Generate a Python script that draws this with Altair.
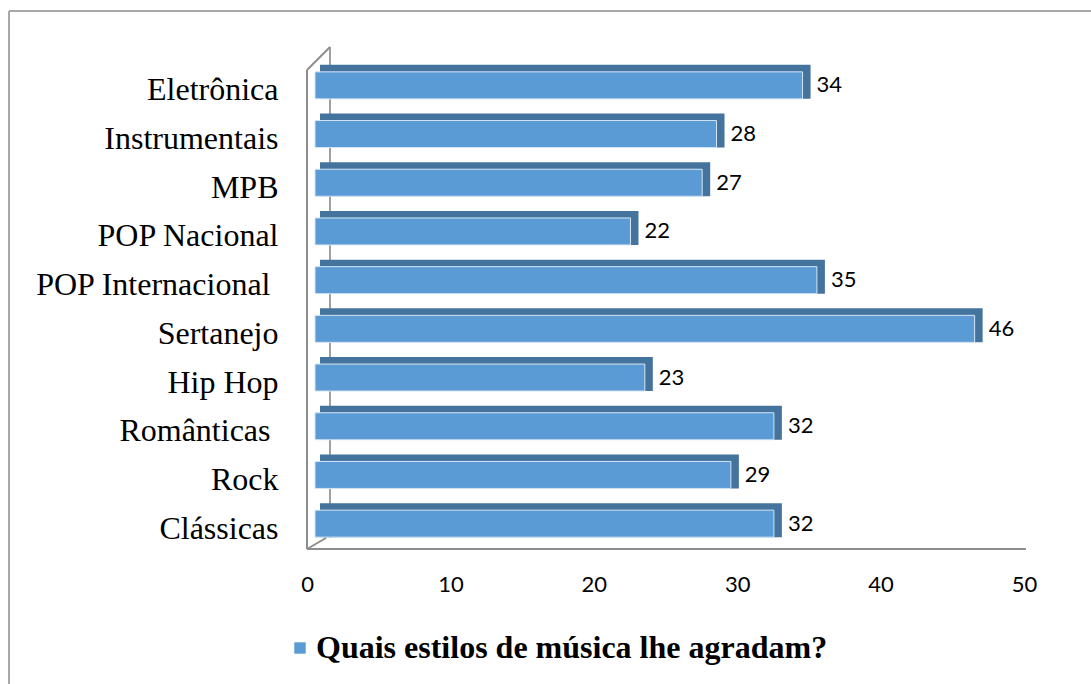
import altair as alt
import pandas as pd

categories = ["Eletrônica", "Instrumentais", "MPB", "POP Nacional", "POP Internacional",
              "Sertanejo", "Hip Hop", "Românticas", "Rock", "Clássicas"]
values = [34, 28, 27, 22, 35, 46, 23, 32, 29, 32]
trailing_space_labels = ["POP Internacional", "Românticas"]
series_name = "Quais estilos de música lhe agradam?"
x_ticks = [0, 10, 20, 30, 40, 50]

df = pd.DataFrame({"estilo": categories, "valor": values, "serie": series_name})

W, H = 717, 487
PAD_L, PAD_T = 307, 61

pad_test = " || ".join(f"datum.value == '{c}'" for c in trailing_space_labels)

y_enc = alt.Y("estilo:N", sort=categories,
              scale=alt.Scale(paddingInner=0.445, paddingOuter=0.2225),
              axis=alt.Axis(title=None, domain=False, ticks=False, labelFont="Liberation Serif",
                            labelFontSize=32, labelColor="black",
                            labelPadding={"condition": {"test": pad_test, "value": 37}, "value": 29},
                            labelOffset=5, labelLimit=400))
x_scale = alt.Scale(domain=[0, 50], nice=False, zero=True)
x_enc = alt.X("valor:Q", scale=x_scale,
              axis=alt.Axis(title=None, values=x_ticks, domain=False, ticks=False, grid=False,
                            labelFont="Lato", labelFontSize=22, labelColor="black",
                            labelPadding=26, labelAngle=0, labelFlush=False))

base = alt.Chart(df)

gray = "#8e8e8e"

def rule(x1, y1, x2, y2, color=gray, w=2):
    return alt.Chart(pd.DataFrame({"d": [0]})).mark_rule(color=color, strokeWidth=w).encode(
        x=alt.value(x1), y=alt.value(y1), x2=alt.value(x2), y2=alt.value(y2))

# frame around the chart area
frame_left = rule(9 - PAD_L, 11 - PAD_T, 9 - PAD_L, 700 - PAD_T, "#a8a8a8", 2)
frame_top = rule(9 - PAD_L, 11 - PAD_T, 1100 - PAD_L, 11 - PAD_T, "#a8a8a8", 2)

back_wall = rule(23, 47 - PAD_T, 23, 538 - PAD_T, "#a0a0a0", 2)
top_diag = rule(0, 70 - PAD_T, 23, 47 - PAD_T)
front_left = rule(0, 70 - PAD_T, 0, 549 - PAD_T)
floor_diag = rule(0, 549 - PAD_T, 19, 538 - PAD_T)
floor = rule(0, 549 - PAD_T, 719, 549 - PAD_T)

dark = base.mark_bar(color="#44739e", xOffset=16, x2Offset=13, size=34, yOffset=-3.5).encode(
    y=y_enc, x=x_enc, x2=alt.datum(0))

front = base.mark_bar(xOffset=8, x2Offset=8, size=27, stroke="#d6e5f4", strokeWidth=1).encode(
    y=y_enc, x=x_enc, x2=alt.datum(0),
    color=alt.Color("serie:N", scale=alt.Scale(range=["#5b9bd5"]),
                    legend=alt.Legend(title=None, orient="none", legendX=-23, legendY=571,
                                      symbolType="square", symbolSize=130, symbolStrokeWidth=0,
                                      labelFont="Liberation Serif", labelFontSize=32,
                                      labelFontWeight="bold", labelColor="black", labelLimit=800,
                                      labelOffset=0)))

labels = base.mark_text(align="left", baseline="middle", dx=22, font="Lato", fontSize=22,
                        color="black").encode(y=y_enc, x=x_enc, text="valor:Q")

chart = alt.layer(frame_left, frame_top, back_wall, top_diag, dark, front, front_left,
                  floor_diag, floor, labels).properties(
    width=W, height=H,
    background="white",
    autosize=alt.AutoSizeParams(type="none"),
    padding={"left": PAD_L, "top": PAD_T, "right": 1091 - PAD_L - W, "bottom": 684 - PAD_T - H},
).configure_view(strokeWidth=0, stroke="transparent")

chart.save("out.html", embed_options={"renderer": "svg", "actions": False})
